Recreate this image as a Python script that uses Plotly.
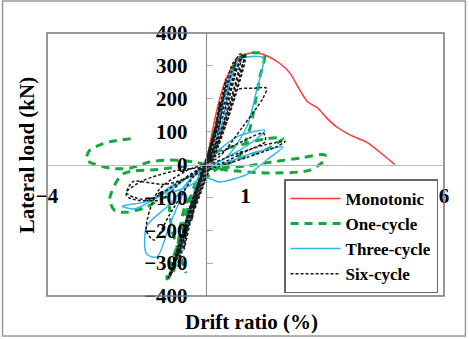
import plotly.graph_objects as go

# ---------------- data (drift ratio %, lateral load kN) ----------------
mono_x = [0, 0.1, 0.25, 0.45, 0.65, 0.85, 1.05, 1.3, 1.55, 1.86, 2.12, 2.37, 2.57, 2.82, 3.05, 3.3, 3.63, 4.05, 4.38, 4.76]
mono_y = [0, 60, 150, 240, 295, 325, 337, 339, 330, 308, 278, 226, 190, 172, 141, 114, 90, 68, 38, 0]

one_x = [0, 0.4, 0.8, 1.0, 1.2, 1.47, 1.35, 1.1, 0.8, 0.2, -0.5, -0.83, -0.98, -0.7, -0.2, 0.3, 0.86, 1.5, 1.94, 1.6, 1.0, 0.3, -0.3,
         -0.9, -1.41, -1.91, -2.42, -3.0, -2.92, -2.42, -1.74, None,
         0.4, 1.0, 1.69, 2.4, 3.0, 3.0, 2.62, 1.61, 0.8, 0.0, None,
         -0.5, -1.2, -2.09, -2.42, -2.29, -2.0, -1.5, -1.0, -0.85, -0.5]
one_y = [0, 180, 320, 335, 340, 335, 260, 105, 20, -20, -120, -330, -348, -240, -40, 40, 59, 78, 80, 50, 25, -5, 8,
         14, 8, -11, -11, 14, 44, 69, 80, None,
         -10, -5, 8, 20, 29, 15, -17, -26, -20, -10, None,
         -5, -15, -29, -105, -141, -145, -130, -100, -200, -330]

three_x = [0, 0.3, 0.4, 0.2, 0, -0.3, -0.4, -0.2, 0,
           0.5, 0.65, 0.4, 0.05, -0.4, -0.65, -0.45, -0.05,
           0.6, 0.85, 1.03, 1.44, 1.28, 1.03, 0.5, -0.2, -0.9, -1.49, -1.49, -1.23, -0.9, -0.3,
           0.78, 1.2, 1.49, 1.3, 0.8, 0.2, -0.8, -1.4, -2.1, -1.8, -1.2, -0.3, 0.4, 1.2, 1.94, 1.6, 1.1, 0.35, 0, -0.5, -1.0]
three_y = [0, 130, 170, 40, 0, -110, -160, -40, 0,
           230, 290, 120, 5, -150, -280, -150, -10,
           250, 320, 327, 324, 226, 114, 20, -20, -120, -188, -272, -281, -180, -30,
           84, 100, 105, 80, 40, 0, -60, -110, -127, -135, -100, -30, 0, 35, 53, 20, -26, -53, -40, -70, -90]

six_x = [0, 0.25, 0.35, 0.2, 0.0, -0.2, -0.35, -0.2, 0,
         0.45, 0.5, 0.3, 0.05, -0.3, -0.55, -0.35, 0,
         0.65, 0.75, 0.5, 0.1, -0.4, -0.7, -0.5, -0.1,
         0.7, 0.9, 0.75, 0.25, -0.6, -0.85, -0.6, -0.05,
         0.85, 0.95, 0.7, 0.2, -0.5, -0.9, -0.7, -0.1,
         0.8, 1.0, 0.85, 0.35, 0.0, -0.7, -0.95, -0.8, -0.3,
         0.6, 0.9, 1.0, 0.8, 0.3, -0.6, -0.95, -0.75, -0.2,
         0.5, 0.78, 1.2, 1.53, 1.44, 0.93, 0.3, -0.5, -1.2, -1.5, -1.3, -0.9, -0.2,
         0.3, 1.0, 1.45, 1.5, 1.1, 0.3, -0.8, -1.6, -2.0, -1.8, -1.16, -0.4,
         0.5, 1.5, 2.0, 1.8, 1.0, 0.2, -1.0, -1.84, -2.0, -1.5, -0.5, 0]
six_y = [0, 120, 190, 60, 0, -80, -170, -60, 0,
         230, 260, 90, 0, -130, -260, -120, 0,
         300, 320, 150, 10, -170, -310, -170, -20,
         260, 325, 250, 40, -240, -330, -220, -10,
         335, 333, 200, 30, -200, -342, -250, -40,
         300, 335, 280, 80, 0, -280, -345, -300, -100,
         210, 330, 333, 230, 50, -220, -345, -270, -60,
         120, 226, 232, 232, 202, 115, 20, -20, -80, -200, -230, -150, -20,
         30, 75, 95, 70, 45, 0, -20, -50, -85, -100, -108, -30,
         20, 60, 70, 55, 20, -10, -60, -53, -95, -110, -40, 0]

series_names = ["Monotonic", "One-cycle", "Three-cycle", "Six-cycle"]
x_ticks = [-4, 1, 6]
y_ticks = [-400, -300, -200, -100, 0, 100, 200, 300, 400]

# ---------------- figure ----------------
SERIF = "Liberation Serif, Times New Roman, serif"
fig = go.Figure()
fig.add_trace(go.Scatter(x=mono_x, y=mono_y, name=series_names[0], mode="lines",
                         line=dict(color="#ff3333", width=1.5, shape="spline", smoothing=0.6)))
fig.add_trace(go.Scatter(x=one_x, y=one_y, name=series_names[1], mode="lines",
                         line=dict(color="#14a83c", width=3, dash="8px,6px", shape="spline", smoothing=0.8)))
fig.add_trace(go.Scatter(x=three_x, y=three_y, name=series_names[2], mode="lines",
                         line=dict(color="#30b8ec", width=1.5, shape="spline", smoothing=0.8)))
fig.add_trace(go.Scatter(x=six_x, y=six_y, name=series_names[3], mode="lines",
                         line=dict(color="#1a1a1a", width=1.5, dash="3px,2px", shape="spline", smoothing=0.8)))

fig.update_layout(
    width=469, height=339,
    margin=dict(l=47, r=25, t=33, b=43),
    paper_bgcolor="white", plot_bgcolor="white",
    font=dict(family=SERIF, size=20, color="black", weight="bold"),
    showlegend=True,
    legend=dict(x=0.985, y=0.01, xanchor="right", yanchor="bottom",
                bgcolor="white", bordercolor="#666", borderwidth=1.5,
                font=dict(family=SERIF, size=17, color="black", weight="bold"),
                tracegroupgap=0, itemwidth=50),
    xaxis=dict(range=[-4, 6], tickvals=x_ticks, ticks="", showgrid=False, zeroline=False,
               showline=True, linecolor="#bbbbbb", linewidth=1,
               anchor="free", position=0.5, ticklabelstandoff=12,
               tickfont=dict(family=SERIF, size=21, color="black", weight="bold")),
    yaxis=dict(range=[-400, 400], tickvals=y_ticks, ticks="inside", ticklen=6, tickcolor="#aaaaaa",
               showgrid=False, zeroline=False, showline=True, linecolor="#888888", linewidth=1,
               anchor="free", position=0.4, ticklabelstandoff=14,
               tickfont=dict(family=SERIF, size=21, color="black", weight="bold")),
    shapes=[
        dict(type="rect", xref="paper", yref="paper", x0=0, x1=1, y0=0, y1=1,
             line=dict(color="#777777", width=1.5), layer="above"),
        dict(type="rect", xref="paper", yref="paper", x0=-0.112, x1=1.054, y0=-0.152, y1=1.122,
             line=dict(color="#999999", width=1.5), layer="above"),
    ],
    annotations=[
        dict(text="Lateral load (kN)", xref="paper", yref="paper", x=-0.05, y=0.536,
             textangle=-90, showarrow=False, xanchor="center", yanchor="middle",
             font=dict(family=SERIF, size=21, color="black", weight="bold")),
        dict(text="Drift ratio (%)", xref="paper", yref="paper", x=0.514, y=-0.099,
             showarrow=False, xanchor="center", yanchor="middle",
             font=dict(family=SERIF, size=21, color="black", weight="bold")),
    ],
)

fig.write_html("out.html")
